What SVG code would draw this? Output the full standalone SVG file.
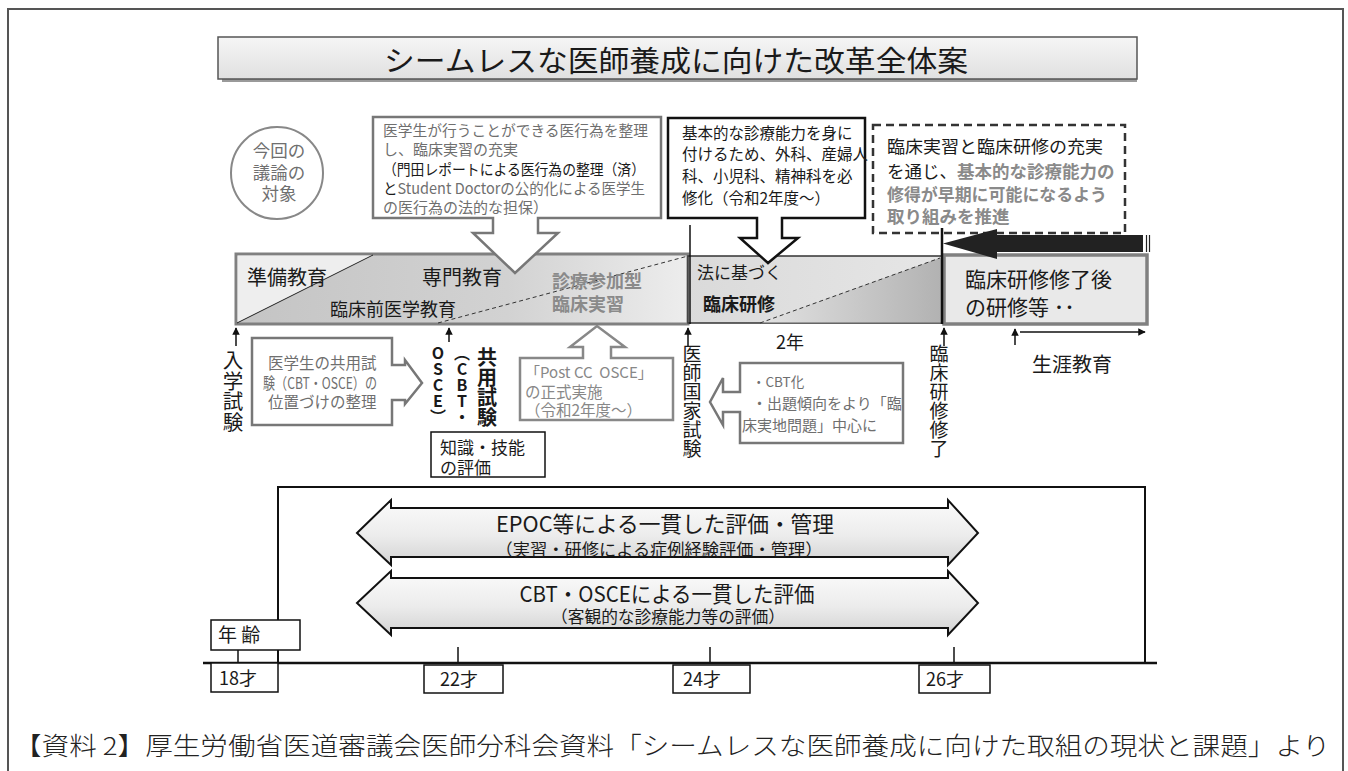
<svg xmlns="http://www.w3.org/2000/svg" width="1348" height="771" viewBox="0 0 1348 771">
<defs>
<style>
text{font-family:'Noto Sans CJK JP','Noto Sans',sans-serif;fill:#1a1a1a}
.g{fill:#6f6f6f}
.gb{fill:#8a8a8a;font-weight:bold}
.b{font-weight:bold}
.v{writing-mode:vertical-rl;text-orientation:upright}
.box{fill:#fff;stroke:#777;stroke-width:2.5}
.kbox{fill:#fff;stroke:#111;stroke-width:1.5}
.tick{stroke:#111;stroke-width:1.5;fill:none}
.up{stroke:#111;stroke-width:1.5;fill:none;marker-end:url(#ah)}
.dash{stroke:#333;stroke-width:1;stroke-dasharray:4 3;fill:none}
.dbl{fill:url(#arrG);stroke:#111;stroke-width:2}
</style>
<linearGradient id="titleG" x1="0" y1="0" x2="0" y2="1"><stop offset="0" stop-color="#f5f5f5"/><stop offset="1" stop-color="#e0e0e0"/></linearGradient>
<linearGradient id="barA" x1="0" y1="0" x2="1" y2="0"><stop offset="0" stop-color="#c4c4c4"/><stop offset="0.6" stop-color="#d2d2d2"/><stop offset="1" stop-color="#ededed"/></linearGradient>
<linearGradient id="barB" x1="0" y1="0" x2="1" y2="0"><stop offset="0" stop-color="#dadada"/><stop offset="1" stop-color="#e6e6e6"/></linearGradient>
<linearGradient id="barB2" x1="0" y1="0" x2="1" y2="0"><stop offset="0" stop-color="#e2e2e2"/><stop offset="1" stop-color="#b2b2b2"/></linearGradient>
<linearGradient id="arrG" x1="0" y1="0" x2="0" y2="1"><stop offset="0" stop-color="#fbfbfb"/><stop offset="0.55" stop-color="#ececec"/><stop offset="1" stop-color="#d2d2d2"/></linearGradient>
<marker id="ah" viewBox="0 0 10 10" refX="9" refY="5" markerWidth="5" markerHeight="5" orient="auto"><path d="M0,0 L10,5 L0,10 Z" fill="#111"/></marker>
</defs>

<rect width="1348" height="771" fill="#fff"/>
<path d="M8,775 V9 H1343 V775" fill="none" stroke="#555" stroke-width="2"/>

<g id="title">
<rect x="222" y="79" width="915" height="3" fill="#9a9a9a"/>
<rect x="218" y="37" width="919" height="42" fill="url(#titleG)" stroke="#555" stroke-width="1.5"/>
<text x="676" y="72" font-size="29" text-anchor="middle" textLength="584" lengthAdjust="spacingAndGlyphs">シームレスな医師養成に向けた改革全体案</text>
</g>

<g id="target-circle">
<circle cx="277" cy="173" r="46" fill="#fff" stroke="#888" stroke-width="2"/>
<text class="g" x="279" y="157" font-size="17.5" text-anchor="middle">今回の</text>
<text class="g" x="279" y="179" font-size="17.5" text-anchor="middle">議論の</text>
<text class="g" x="279" y="200" font-size="17.5" text-anchor="middle">対象</text>
</g>

<g id="timeline-bar">
<rect x="236" y="254" width="452" height="70" fill="url(#barA)" stroke="#808080" stroke-width="3"/>
<polygon points="237.5,255.5 373,255.5 237.5,322.5" fill="#eeeeee"/>
<line x1="237" y1="323" x2="373" y2="255" stroke="#222" stroke-width="1"/>
<line class="dash" x1="438" y1="323" x2="688" y2="256"/>
<rect x="688" y="256" width="254" height="67" fill="url(#barB)" stroke="#333" stroke-width="1.5"/>
<polygon points="760,322.5 941,257.5 941,322.5" fill="url(#barB2)"/>
<line class="dash" x1="760" y1="323" x2="940" y2="258"/>
<rect x="944" y="255" width="203" height="69" fill="#e9e9e9" stroke="#808080" stroke-width="3.5"/>
<text x="247" y="285" font-size="20">準備教育</text>
<text x="422" y="285" font-size="20">専門教育</text>
<text x="330" y="316" font-size="18">臨床前医学教育</text>
<text class="gb" x="552" y="288" font-size="18">診療参加型</text>
<text class="gb" x="552" y="311" font-size="18">臨床実習</text>
<text x="697" y="279" font-size="17">法に基づく</text>
<text class="b" x="703" y="311" font-size="18">臨床研修</text>
<text x="965" y="287" font-size="21">臨床研修修了後</text>
<text x="965" y="315" font-size="21">の研修等 ･･</text>
</g>

<g id="callout-ika">
<path class="box" d="M373,117 H661 V218 H538 V233 H558 L515,273 L473,233 H493 V218 H373 Z"/>
<text class="g" x="383" y="135.5" font-size="15" textLength="265" lengthAdjust="spacingAndGlyphs">医学生が行うことができる医行為を整理</text>
<text class="g" x="383" y="155" font-size="15">し、臨床実習の充実</text>
<text x="383" y="174.5" font-size="15" textLength="262" lengthAdjust="spacingAndGlyphs">（門田レポートによる医行為の整理（済）</text>
<text x="383" y="194" font-size="15" textLength="262" lengthAdjust="spacingAndGlyphs">と<tspan class="g">Student Doctorの公的化による医学生</tspan></text>
<text class="g" x="383" y="213" font-size="15">の医行為の法的な担保）</text>
</g>

<g id="callout-rinsho">
<path d="M668,118 H865 V218 H782 V238 H798 L768,263 L740,238 H757 V218 H668 Z" fill="#fff" stroke="#111" stroke-width="2.5"/>
<text x="682" y="138.5" font-size="15.5">基本的な診療能力を身に</text>
<text x="682" y="160" font-size="15.5">付けるため、外科、産婦人</text>
<text x="682" y="182" font-size="15.5">科、小児科、精神科を必</text>
<text x="682" y="203.5" font-size="15.5">修化（令和2年度～）</text>
</g>

<g id="callout-dashed">
<rect x="873" y="125" width="252" height="108" fill="#fff" stroke="#333" stroke-width="2.5" stroke-dasharray="8 5"/>
<text x="887" y="153" font-size="17.5" textLength="216" lengthAdjust="spacingAndGlyphs">臨床実習と臨床研修の充実</text>
<text x="887" y="178" font-size="17.5">を通じ、<tspan class="gb">基本的な診療能力の</tspan></text>
<text class="gb" x="887" y="201" font-size="17.5" textLength="220" lengthAdjust="spacingAndGlyphs">修得が早期に可能になるよう</text>
<text class="gb" x="887" y="223" font-size="17.5">取り組みを推進</text>
</g>

<g id="big-arrow">
<polygon points="1143,235 997,235 997,229 943,243.5 997,259 997,252 1143,252" fill="#222"/>
<line x1="1146.5" y1="235" x2="1146.5" y2="252" stroke="#222" stroke-width="1.2"/>
<line x1="1149.5" y1="235" x2="1149.5" y2="252" stroke="#222" stroke-width="1.2"/>
</g>

<g id="connectors">
<line x1="690" y1="225" x2="690" y2="324" stroke="#111" stroke-width="1.5"/>
<line x1="942" y1="228" x2="942" y2="324" stroke="#111" stroke-width="2.5"/>
<line class="up" x1="236" y1="346" x2="236" y2="328"/>
<line class="up" x1="449" y1="342" x2="449" y2="328"/>
<line class="up" x1="688" y1="346" x2="688" y2="328"/>
<line class="up" x1="944" y1="346" x2="944" y2="328"/>
<line class="up" x1="1015" y1="345" x2="1015" y2="329"/>
<line class="up" x1="1020" y1="332" x2="1145" y2="332"/>
</g>

<g id="label-nyugaku">
<text class="v" x="233" y="350" font-size="20.5">入学試験</text>
</g>

<g id="callout-kyoyo">
<path class="box" d="M252,338 H392 V365 H405 V360 L422,383 L405,404 V400 H392 V425 H252 Z"/>
<text class="g" x="268" y="368.5" font-size="15.5">医学生の共用試</text>
<text class="g" x="263" y="388.5" font-size="15.5" textLength="114" lengthAdjust="spacingAndGlyphs">験（CBT・OSCE）の</text>
<text class="g" x="268" y="407.5" font-size="15.5">位置づけの整理</text>
</g>

<g id="label-kyoyo-shiken">
<text class="v b" x="438" y="345" font-size="16">OSCE）</text>
<text class="v b" x="462" y="345" font-size="16">（CBT・</text>
<text class="v b" x="487" y="347" font-size="20">共用試験</text>
</g>

<g id="box-chishiki">
<rect class="kbox" x="431" y="432" width="114" height="45"/>
<text x="440" y="454" font-size="17">知識・技能</text>
<text x="440" y="474" font-size="17">の評価</text>
</g>

<g id="callout-postcc">
<path d="M520,358 H583 V347 H570 L597,326 L625,347 H611 V358 H673 V420 H520 Z" fill="#fff" stroke="#888" stroke-width="2.5"/>
<text x="525" y="377.5" font-size="15" style="fill:#888">「Post CC&#160;&#160;OSCE」</text>
<text x="525" y="397.5" font-size="15.5" style="fill:#888">の正式実施</text>
<text x="525" y="415.5" font-size="15.5" style="fill:#888">（令和2年度～）</text>
</g>

<text x="790" y="349" font-size="18" text-anchor="middle">2年</text>

<g id="label-kokushi">
<text class="v" x="692" y="344" font-size="19">医師国家試験</text>
</g>

<g id="callout-cbt">
<path class="box" d="M740,363 H903 V443 H740 V412 H723 V425 L710,402 L723,378 V392 H740 Z"/>
<text class="g" x="752" y="387" font-size="13.5">・CBT化</text>
<text class="g" x="752" y="408.5" font-size="15">・出題傾向をより「臨</text>
<text class="g" x="742" y="430.5" font-size="15">床実地問題」中心に</text>
</g>

<g id="label-shuryo">
<text class="v" x="939" y="344" font-size="19">臨床研修修了</text>
</g>

<text x="1032" y="372" font-size="20">生涯教育</text>

<g id="eval-frame">
<path d="M278,663 V487 H1145 V663" fill="none" stroke="#111" stroke-width="2"/>
</g>

<g id="arrow-epoc">
<polygon class="dbl" points="357,533 391,500 391,508 948,508 948,500 978,533 948,565 948,557 391,557 391,565"/>
<text x="665" y="532" font-size="22" text-anchor="middle" textLength="338" lengthAdjust="spacingAndGlyphs">EPOC等による一貫した評価・管理</text>
<text x="659" y="556" font-size="16.5" text-anchor="middle" textLength="327" lengthAdjust="spacingAndGlyphs">（実習・研修による症例経験評価・管理）</text>
</g>

<g id="arrow-cbt">
<polygon class="dbl" points="357,603 391,571 391,578 948,578 948,571 978,603 948,635 948,628 391,628 391,635"/>
<text x="667" y="602" font-size="22" text-anchor="middle" textLength="295" lengthAdjust="spacingAndGlyphs">CBT・OSCEによる一貫した評価</text>
<text x="668" y="623" font-size="16.5" text-anchor="middle" textLength="234" lengthAdjust="spacingAndGlyphs">（客観的な診療能力等の評価）</text>
</g>

<g id="age-axis">
<line class="tick" x1="458" y1="647" x2="458" y2="663"/>
<line class="tick" x1="710" y1="647" x2="710" y2="663"/>
<line class="tick" x1="954" y1="647" x2="954" y2="663"/>
<line class="tick" x1="238" y1="650" x2="238" y2="663"/>
<rect class="kbox" x="211" y="620" width="89" height="30"/>
<text x="218" y="642" font-size="19">年 齢</text>
<line x1="203" y1="663" x2="1157" y2="663" stroke="#111" stroke-width="2.5"/>
<rect class="kbox" x="211" y="663" width="67" height="29"/>
<text x="219" y="685" font-size="18">18才</text>
<rect class="kbox" x="424" y="665" width="79" height="28"/>
<text x="440" y="686" font-size="18">22才</text>
<rect class="kbox" x="673" y="665" width="77" height="28"/>
<text x="683" y="686" font-size="18">24才</text>
<rect class="kbox" x="919" y="665" width="71" height="28"/>
<text x="926" y="686" font-size="18">26才</text>
</g>

<text x="14" y="755" font-size="25" font-weight="300" textLength="1316" lengthAdjust="spacingAndGlyphs" style="fill:#222">【資料 2】厚生労働省医道審議会医師分科会資料「シームレスな医師養成に向けた取組の現状と課題」より</text>
</svg>
